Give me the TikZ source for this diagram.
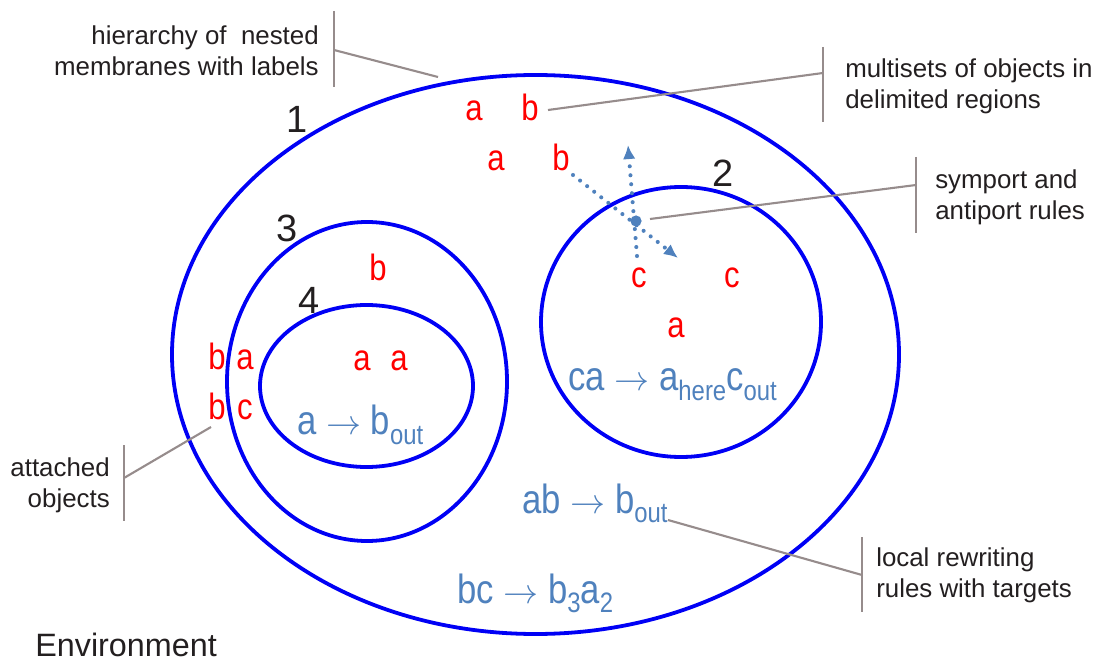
\documentclass[tikz,border=0pt]{standalone}
\usepackage{fontspec}
\setmainfont{Liberation Sans}
\newfontfamily\narrowsans[FakeStretch=0.85]{Liberation Sans}
\usetikzlibrary{arrows.meta}

\definecolor{membblue}{RGB}{0,0,245}
\definecolor{objred}{RGB}{255,0,0}
\definecolor{ruleblue}{RGB}{79,129,189}
\definecolor{leadgray}{RGB}{150,140,140}
\definecolor{notegray}{RGB}{35,31,32}

\newcommand{\lowidx}[1]{\raisebox{-7pt}{\fontsize{20}{20}\selectfont #1}}

\begin{document}
\begin{tikzpicture}[x=0.025cm, y=-0.025cm,
	membrane/.style={draw=membblue, line width=2.7pt},
	obj/.style={text=objred, font=\narrowsans\fontsize{26}{26}\selectfont, inner sep=0pt, anchor=base},
	rule/.style={text=ruleblue, font=\narrowsans\fontsize{29}{29}\selectfont, inner sep=0pt, anchor=base west},
	mlabel/.style={text=notegray, font=\fontsize{27}{27}\selectfont, inner sep=0pt, anchor=base},
	note/.style={text=notegray, font=\fontsize{18.4}{22}\selectfont, inner sep=0pt},
	bar/.style={draw=leadgray, line width=1.5pt},
	transfer/.style={draw=ruleblue, line width=2.9pt, line cap=round, dash pattern=on 0pt off 6.4pt, -{Latex[length=10pt,width=9pt]}}
	]
	\useasboundingbox (0,0) rectangle (1096,661);
	
	% Membranes
	\draw[membrane] (535.5,354.5) ellipse [x radius=363.5, y radius=279.5];
	\draw[membrane] (681,322) ellipse [x radius=140, y radius=135];
	\draw[membrane] (367,381.5) ellipse [x radius=140, y radius=159.5];
	\draw[membrane] (366.5,386) ellipse [x radius=106.5, y radius=81];
	
	% Membrane labels
	\node[mlabel] (m1) at (297,133) {1};
	\node[mlabel] (m2) at (723,187) {2};
	\node[mlabel] (m3) at (287,242) {3};
	\node[mlabel] (m4) at (309,314) {4};
	
	% Objects
	\node[obj] (a1) at (474,121) {a};
	\node[obj] (b1) at (530,121) {b};
	\node[obj] (a2) at (496,171) {a};
	\node[obj] (b2) at (561,171) {b};
	\node[obj] (b3) at (378,281) {b};
	\node[obj] (c1) at (639,288) {c};
	\node[obj] (c2) at (732,288) {c};
	\node[obj] (a3) at (676,338) {a};
	\node[obj] (a4) at (362,371) {a};
	\node[obj] (a5) at (399,371) {a};
	\node[obj] (b4) at (217,370) {b};
	\node[obj] (a6) at (245,370) {a};
	\node[obj] (b5) at (217,420) {b};
	\node[obj] (c3) at (245,420) {c};
	
	% Rules
	\node[rule] (r2) at (568,391) {ca $\rightarrow$ a\lowidx{here}c\lowidx{out}};
	\node[rule] (r4) at (297,435) {a $\rightarrow$ b\lowidx{out}};
	\node[rule] (r1a) at (522,513) {ab $\rightarrow$ b\lowidx{out}};
	\node[rule] (r1b) at (457,603) {bc $\rightarrow$ b\lowidx{3}a\lowidx{2}};
	
	% Symport / antiport
	\coordinate (vstart) at (637,256);
	\coordinate (vend) at (628,145);
	\coordinate (dstart) at (573,175);
	\coordinate (dend) at (678,258);
	\draw[transfer] (vstart) -- (vend);
	\draw[transfer] (dstart) -- (dend);
	\node[circle, fill=ruleblue, inner sep=0pt, minimum size=0.28cm] (port) at (636,221) {};
	
	\node[anchor=base west, text=notegray, font=\fontsize{23}{23}\selectfont, inner sep=0pt] (env) at (35,656) {Environment};
	
	% Callouts
	\node[note, anchor=east, align=right] (hier) at (319,51) {hierarchy of \ nested\\membranes with labels};
	\node[note, anchor=west, align=left] (multi) at (845,86) {multisets of objects in\\delimited regions};
	\node[note, anchor=west, align=left] (symp) at (935,197) {symport and\\antiport rules};
	\node[note, anchor=east, align=right] (attach) at (110,485) {attached\\objects};
	\node[note, anchor=west, align=left] (local) at (876,575) {local rewriting\\rules with targets};
	
	\coordinate (hierbar) at (334,50);
	\coordinate (hierend) at (438,77);
	\coordinate (multibar) at (823,73);
	\coordinate (multiend) at (548,110);
	\coordinate (sympbar) at (916,185);
	\coordinate (sympend) at (650,219);
	\coordinate (attachbar) at (124,478);
	\coordinate (attachend) at (211,427);
	\coordinate (localbar) at (862,575);
	\coordinate (localend) at (668,520);
	
	\draw[bar] (hierbar) ++(0,-39) -- ++(0,76);
	\draw[bar] (multibar) ++(0,-26) -- ++(0,75);
	\draw[bar] (sympbar) ++(0,-28) -- ++(0,76);
	\draw[bar] (attachbar) ++(0,-33) -- ++(0,76);
	\draw[bar] (localbar) ++(0,-38) -- ++(0,75);
	
	\draw[bar] (hierbar) -- (hierend);
	\draw[bar] (multibar) -- (multiend);
	\draw[bar] (sympbar) -- (sympend);
	\draw[bar] (attachbar) -- (attachend);
	\draw[bar] (localbar) -- (localend);
	
\end{tikzpicture}
\end{document}
